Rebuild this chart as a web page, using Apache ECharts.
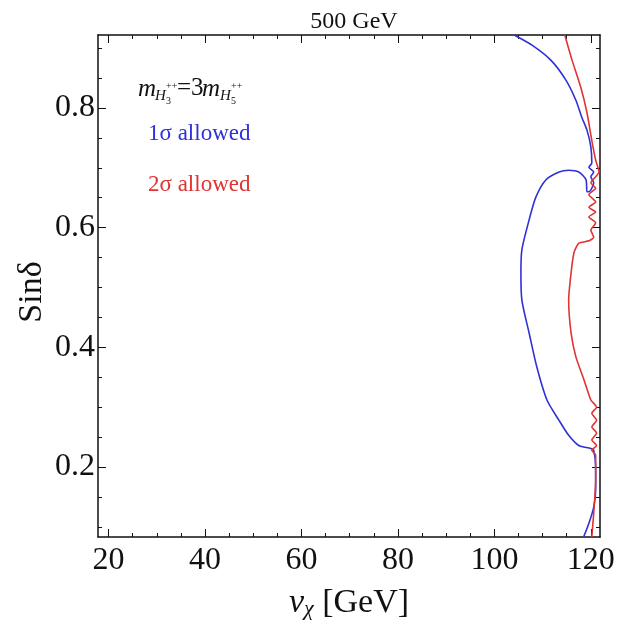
<!DOCTYPE html>
<html>
<head>
<meta charset="utf-8">
<script src="https://cdn.jsdelivr.net/npm/echarts@6/dist/echarts.min.js"></script>
<style>
  html, body { margin: 0; padding: 0; background: #fff; }
  #chart-container { width: 619px; height: 629px; }
</style>
</head>
<body>
<div id="chart-container"></div>
<script>
var dom = document.getElementById("chart-container");
var myChart = echarts.init(dom, null, { renderer: "canvas" });

// axis ticks
const xTicks = [20, 40, 60, 80, 100, 120];
const xMinorTicks = [25, 30, 35, 45, 50, 55, 65, 70, 75, 85, 90, 95, 105, 110, 115];
const yTicks = [0.2, 0.4, 0.6, 0.8];
const yMinorTicks = [0.1, 0.15, 0.25, 0.3, 0.35, 0.45, 0.5, 0.55, 0.65, 0.7, 0.75, 0.85, 0.9];

// contour of the 1 sigma region [v_chi, sin delta]
const sigma1 = [
  [104.1, 0.922], [107.8, 0.905], [111.7, 0.880], [114.8, 0.847], [116.9, 0.813],
  [118.1, 0.785], [119.2, 0.763], [120.0, 0.735], [120.2, 0.708], [119.6, 0.701],
  [120.6, 0.693], [120.0, 0.685], [120.6, 0.675], [119.6, 0.660], [119.2, 0.660],
  [119.0, 0.680], [117.5, 0.693], [115.4, 0.696], [113.4, 0.693], [110.7, 0.680],
  [108.6, 0.651], [107.2, 0.613], [105.7, 0.563], [105.5, 0.524], [105.7, 0.479],
  [107.2, 0.424], [108.8, 0.367], [110.9, 0.312], [113.4, 0.278], [115.4, 0.253],
  [117.5, 0.236], [120.0, 0.231], [120.6, 0.228], [121.0, 0.200], [121.0, 0.161],
  [120.6, 0.133], [119.6, 0.106], [118.5, 0.083]
];

// contour of the 2 sigma region
const sigma2 = [
  [114.6, 0.922], [116.1, 0.880], [117.9, 0.835], [119.2, 0.792], [120.2, 0.746],
  [121.0, 0.713], [121.7, 0.693], [120.0, 0.675], [121.0, 0.666], [119.6, 0.655],
  [121.0, 0.643], [119.6, 0.634], [121.0, 0.626], [119.6, 0.618], [121.0, 0.608],
  [120.0, 0.596], [120.6, 0.584], [119.6, 0.578], [117.5, 0.574], [116.5, 0.558],
  [115.9, 0.524], [115.4, 0.479], [115.9, 0.424], [116.9, 0.384], [118.6, 0.345],
  [120.0, 0.312], [121.2, 0.300], [120.2, 0.290], [121.2, 0.278], [120.2, 0.267],
  [121.2, 0.257], [120.2, 0.245], [121.2, 0.236], [120.2, 0.228], [121.0, 0.220],
  [121.0, 0.178], [120.6, 0.123], [120.2, 0.083]
];

const serif = "'Liberation Serif', 'DejaVu Serif', serif";
const blue = "#3030d8";
const red = "#e03434";

const xRange = { min: 17.8, max: 121.9 };
const yRange = { min: 0.083, max: 0.922 };

function frameAxis(pos, range, ticks, len, withLine) {
  return {
    type: "value",
    position: pos,
    min: range.min,
    max: range.max,
    axisLine: { show: withLine, onZero: false, lineStyle: { color: "#111", width: 1.5 } },
    axisTick: { show: true, inside: true, length: len, customValues: ticks, lineStyle: { color: "#111", width: 1 } },
    axisLabel: { show: false },
    splitLine: { show: false }
  };
}

var xBottom = frameAxis("bottom", xRange, xTicks, 8, true);
xBottom.axisLabel = {
  show: true, customValues: xTicks, margin: 8,
  fontFamily: serif, fontSize: 32, color: "#111"
};
xBottom.name = "{v|v}{c|χ}{t| [GeV]}";
xBottom.nameLocation = "middle";
xBottom.nameGap = 49;
xBottom.nameMoveOverlap = false;
xBottom.nameTextStyle = {
  rich: {
    v: { fontFamily: serif, fontStyle: "italic", fontSize: 34, lineHeight: 34, color: "#111" },
    c: { fontFamily: serif, fontStyle: "italic", fontSize: 22, lineHeight: 10, verticalAlign: "bottom", color: "#111" },
    t: { fontFamily: serif, fontSize: 34, lineHeight: 34, color: "#111" }
  }
};

var yLeft = frameAxis("left", yRange, yTicks, 8, true);
yLeft.axisLabel = {
  show: true, customValues: yTicks, margin: 3,
  fontFamily: serif, fontSize: 32, color: "#111"
};
yLeft.name = "Sinδ";
yLeft.nameLocation = "middle";
yLeft.nameGap = 49;
yLeft.nameMoveOverlap = false;
yLeft.nameTextStyle = { fontFamily: serif, fontSize: 34, color: "#111", padding: [0, 12, 0, 0] };

// pieces of the mass relation label: [text, x, y, size, italic]
function piece(t, x, y, size, italic) {
  return {
    type: "text", x: x, y: y,
    style: {
      text: t, fontFamily: serif, fontSize: size, fontStyle: italic ? "italic" : "normal",
      fill: "#111", verticalAlign: "middle"
    }
  };
}

option = {
  animation: false,
  backgroundColor: "#fff",
  title: {
    text: "500 GeV",
    left: 349,
    top: 5,
    textAlign: "center",
    textStyle: { fontFamily: serif, fontWeight: "normal", fontSize: 24, color: "#111" }
  },
  grid: { left: 98, right: 19, top: 35, bottom: 92, outerBoundsMode: "none" },
  xAxis: [
    xBottom,
    frameAxis("bottom", xRange, xMinorTicks, 4, false),
    frameAxis("top", xRange, xTicks, 8, true),
    frameAxis("top", xRange, xMinorTicks, 4, false)
  ],
  yAxis: [
    yLeft,
    frameAxis("left", yRange, yMinorTicks, 4, false),
    frameAxis("right", yRange, yTicks, 8, true),
    frameAxis("right", yRange, yMinorTicks, 4, false)
  ],
  graphic: [
    piece("m", 138, 89, 25, true),
    piece("H", 155, 96, 15, true),
    piece("3", 166, 101, 10, false),
    piece("++", 166, 86, 10, false),
    piece("=3", 177, 88, 25, false),
    piece("m", 202, 89, 25, true),
    piece("H", 220, 96, 15, true),
    piece("5", 231, 101, 10, false),
    piece("++", 231, 86, 10, false),
    {
      type: "text",
      x: 148,
      y: 134,
      style: { text: "1σ allowed", fontFamily: serif, fontSize: 23, fill: blue, verticalAlign: "middle" }
    },
    {
      type: "text",
      x: 148,
      y: 185,
      style: { text: "2σ allowed", fontFamily: serif, fontSize: 23, fill: red, verticalAlign: "middle" }
    }
  ],
  series: [
    {
      name: "1σ",
      type: "line",
      xAxisIndex: 0,
      yAxisIndex: 0,
      showSymbol: false,
      smooth: 0.25,
      clip: true,
      lineStyle: { color: blue, width: 1.6 },
      data: sigma1
    },
    {
      name: "2σ",
      type: "line",
      xAxisIndex: 0,
      yAxisIndex: 0,
      showSymbol: false,
      smooth: 0.2,
      clip: true,
      lineStyle: { color: red, width: 1.6 },
      data: sigma2
    }
  ]
};

myChart.setOption(option);
window.addEventListener("resize", myChart.resize);
</script>
</body>
</html>
